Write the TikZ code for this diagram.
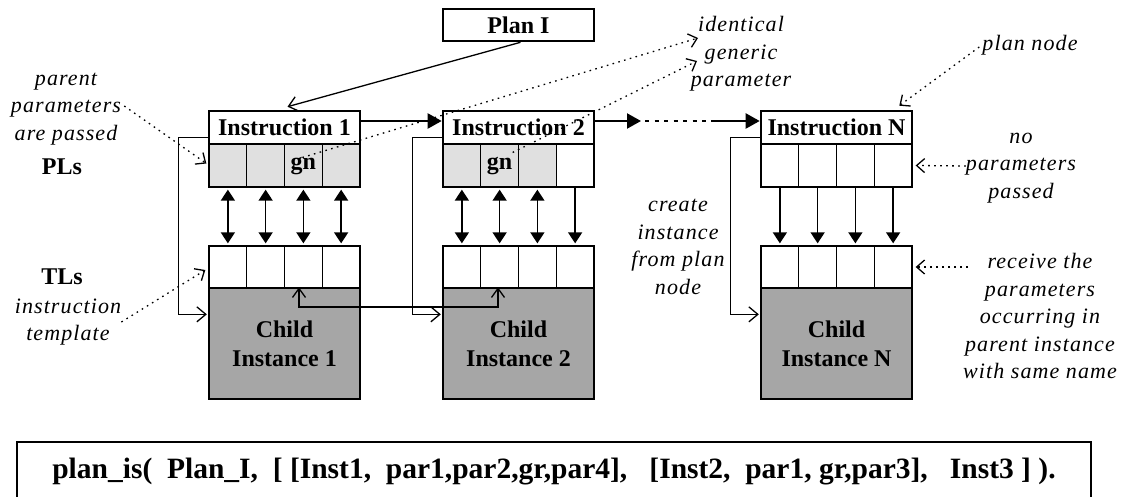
\documentclass[tikz,border=0pt]{standalone}
\usepackage{fontspec}
\setmainfont{Liberation Serif}
\newfontfamily\annfont[LetterSpace=5]{Liberation Serif}
\usetikzlibrary{arrows.meta,calc}
\definecolor{plgray}{RGB}{224,224,224}
\definecolor{childgray}{RGB}{166,166,166}
\begin{document}
\begin{tikzpicture}[x=1pt,y=-1pt,
  bf/.style={font=\fontsize{24}{26}\selectfont\bfseries},
  instr/.style={draw, line width=2.6pt, fill=white, minimum width=151pt, minimum height=33pt, inner sep=0pt, bf},
  cell/.style={draw, line width=1.3pt, minimum width=37.75pt, inner sep=0pt},
  plcell/.style={cell, minimum height=43pt},
  tlcell/.style={cell, minimum height=42pt, fill=white},
  child/.style={draw, line width=1.3pt, fill=childgray, minimum width=151pt, minimum height=111pt, inner sep=0pt, align=center, font=\fontsize{24}{29}\selectfont\bfseries},
  lab/.style={inner sep=0pt, bf},
  ann/.style={font=\fontsize{22}{27.5}\selectfont\annfont\itshape, align=center, inner sep=0pt},
  dotarrow/.style={line width=1.3pt, dash pattern=on 1.6pt off 4.4pt, -{Straight Barb[length=8pt,width=14pt,line width=1.3pt]}},
  link/.style={line width=1.3pt, -{Straight Barb[length=9pt,width=15pt]}},
  dbl/.style={line width=1.5pt, {Triangle[length=11pt,width=14pt]}-{Triangle[length=11pt,width=14pt]}, shorten <=2pt, shorten >=2pt},
  down/.style={line width=1.5pt, -{Triangle[length=11pt,width=14pt]}, shorten >=2pt},
  main/.style={line width=2.2pt, -{Triangle[length=14pt,width=15pt]}},
  maindots/.style={line width=2pt, dash pattern=on 4pt off 5.5pt},
]
\useasboundingbox (0,0) rectangle (1134,497);

% plan node
\node[instr, minimum height=32pt] (plan) at (518.5,25) {Plan I};

% columns
\foreach \c/\x/\fa/\fb/\fc/\fd/\nd in {1/209/plgray/plgray/plgray/plgray/4, 2/443/plgray/plgray/plgray/white/3, N/761/white/white/white/white/0}{
  \node[instr] (I\c) at (\x+75.5,127.5) {Instruction \c};
  \foreach \k/\f in {1/\fa,2/\fb,3/\fc,4/\fd}{
    \node[plcell, fill=\f] (p\c-\k) at (\x+\k*37.75-18.875,165.5) {};
    \node[tlcell] (t\c-\k) at (\x+\k*37.75-18.875,267) {};
  }
  \node[child] (C\c) at (\x+75.5,343.5) {Child\\Instance \c};
  \foreach \k in {1,...,4}{
    \ifnum\k>\nd
      \draw[down] (p\c-\k.south) -- (t\c-\k.north);
    \else
      \draw[dbl] (p\c-\k.south) -- (t\c-\k.north);
    \fi
  }
  % create-instance feedback line
  \draw[link, shorten >=1.5pt] ($(I\c.south west)+(0,-8)$) -- ++(-29,0) |- ($(C\c.north west)+(0,27)$);
}

% gn labels
\node[lab] (gn1) at (p1-3) {gn};
\node[lab] (gn2) at (p2-2) {gn};

% main sequence arrows
\coordinate (d1) at (641,121);
\coordinate (d2) at (711,121);
\draw[main] ($(I1.east)+(0,-6.5)$) -- ($(I2.west)+(0,-6.5)$);
\draw[main] ($(I2.east)+(0,-6.5)$) -- (d1);
\draw[maindots] ($(d1)+(4,0)$) -- (d2);
\draw[main] (d2) -- ($(IN.west)+(0,-6.5)$);

% plan -> instruction 1
\draw[link] ($(plan.south)+(2,0)$) -- ($(I1.north)+(3,-3)$);

% link between child instances
\draw[line width=1.3pt, {Straight Barb[length=9pt,width=13pt]}-{Straight Barb[length=9pt,width=13pt]}]
  ($(C1.north)+(14.5,0)$) -- ++(0,19.5) -| ($(C2.north)+(-20.5,0)$);

% left labels
\node[lab] (PLs) at (62,167) {PLs};
\node[lab] (TLs) at (62,277) {TLs};

% annotations
\node[ann] (PP) at (66,109) {parent\\parameters\\are passed};
\node[ann] (IT) at (68,322) {instruction\\template};
\node[ann] (ID) at (741,54) {identical\\generic\\parameter};
\node[ann] (PN) at (1030,45) {plan node};
\node[ann] (NP) at (1021,168) {no\\parameters\\passed};
\node[ann] (CI) at (678,247) {create\\instance\\from plan\\node};
\node[ann] (RV) at (1040,316) {receive the\\parameters\\occurring in\\parent instance\\with same name};

\coordinate (idA) at (698,38);
\coordinate (idB) at (697,61);
\coordinate (rvS) at (968,267);

\draw[dotarrow] ($(PP.east)+(3,-3)$) -- ($(p1-1.west)+(-2,-2)$);
\draw[dotarrow] ($(IT.east)+(0,0)$) -- ($(t1-1.west)+(-3,3)$);
\draw[dotarrow] ($(p1-3)+(-1,-8)$) -- (idA);
\draw[dotarrow] ($(p2-2)+(13,-13)$) -- (idB);
\draw[dotarrow] ($(PN.west)+(-3,2)$) -- ($(IN.north east)+(-14,-4)$);
\draw[dotarrow] ($(NP.west)+(0,-2)$) -- ($(pN-4.east)+(3,0)$);
\draw[dotarrow] (rvS) -- ($(tN-4.east)+(3,0)$);

% bottom code box
\node[draw, line width=1.3pt, anchor=base, minimum width=1074pt, inner sep=0pt, text height=36pt, text depth=32pt,
  font=\fontsize{29.5}{32}\selectfont\bfseries] (code) at (554,478)
  {plan\_is(~~Plan\_I,~~[~[Inst1,~~par1,par2,gr,par4],~~~[Inst2,~~par1,~gr,par3],~~~Inst3~]~).};
\end{tikzpicture}
\end{document}
